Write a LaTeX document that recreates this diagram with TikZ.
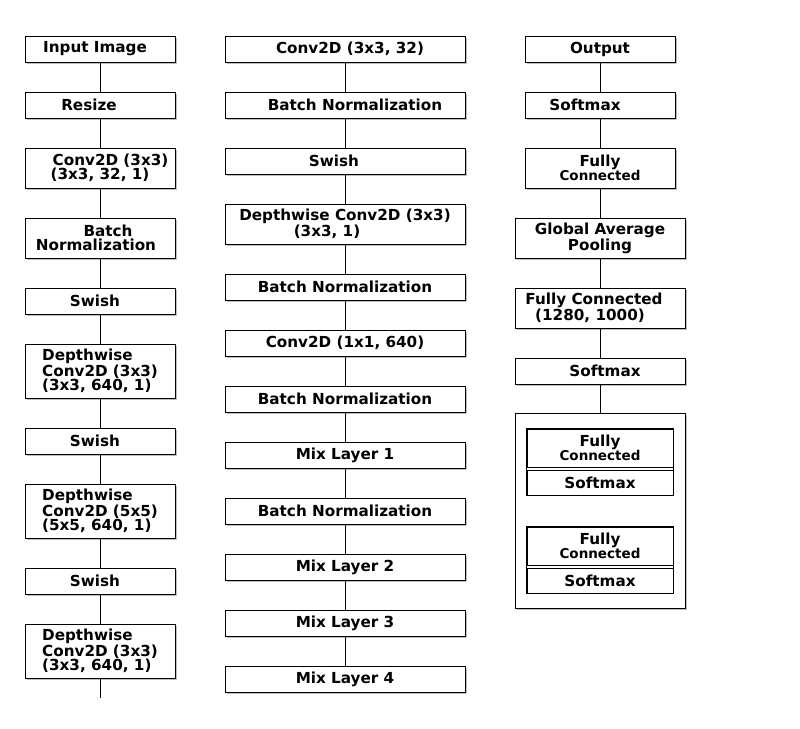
\documentclass[tikz,border=0pt]{standalone}
\usepackage{fontspec}
\setmainfont{DejaVu Sans}
\usetikzlibrary{shadows}
\newcommand\smtxt[1]{{\fontsize{13.5}{13}\selectfont #1}}
\tikzset{
  blk/.style={draw, fill=white, line width=0.9pt, inner sep=0pt, align=center,
    font=\fontsize{15.2}{13.8}\selectfont\bfseries,
    drop shadow={shadow xshift=1.6pt, shadow yshift=-1.6pt, opacity=0.5, fill=gray}},
  part/.style={draw, fill=white, line width=0.9pt, inner sep=0pt, align=center,
    minimum width=146pt, font=\fontsize{15.2}{13.8}\selectfont\bfseries},
  lnk/.style={line width=0.9pt}
}
\begin{document}
\begin{tikzpicture}[x=1pt,y=-1pt]
  \fill[white] (0,0) rectangle (800,728);
  \useasboundingbox (0,0) rectangle (800,728);
  % first column
  \node[blk, minimum width=150pt, minimum height=26pt] (inimg) at (100,49) {Input Image\hspace*{10pt}};
  \node[blk, minimum width=150pt, minimum height=26pt] (rsz) at (100,105) {Resize\hspace*{22pt}};
  \node[blk, minimum width=150pt, minimum height=40pt] (cva) at (100,168) {\hspace*{21pt}Conv2D (3x3)\\(3x3, 32, 1)};
  \node[blk, minimum width=150pt, minimum height=40pt] (bna) at (100,238) {\hspace*{16pt}Batch\\Normalization\hspace*{8pt}};
  \node[blk, minimum width=150pt, minimum height=26pt] (swa) at (100,301) {Swish\hspace*{10pt}};
  \node[blk, minimum width=150pt, minimum height=54pt, align=left] (dwa) at (100,371)
        {Depthwise\\Conv2D (3x3)\\(3x3, 640, 1)};
  \node[blk, minimum width=150pt, minimum height=26pt] (swb) at (100,441) {Swish\hspace*{10pt}};
  \node[blk, minimum width=150pt, minimum height=54pt, align=left] (dwb) at (100,511)
        {Depthwise\\Conv2D (5x5)\\(5x5, 640, 1)};
  \node[blk, minimum width=150pt, minimum height=26pt] (swc) at (100,581) {Swish\hspace*{10pt}};
  \node[blk, minimum width=150pt, minimum height=54pt, align=left] (dwc) at (100,651)
        {Depthwise\\Conv2D (3x3)\\(3x3, 640, 1)};
  \coordinate (aend) at (100,698);
  \foreach \a/\b in {inimg/rsz,rsz/cva,cva/bna,bna/swa,swa/dwa,dwa/swb,swb/dwb,dwb/swc,swc/dwc,dwc/aend}
    \draw[lnk] (\a) -- (\b);
  % second column
  \node[blk, minimum width=240pt, minimum height=26pt] (cvb) at (345,49) {\hspace*{10pt}Conv2D (3x3, 32)};
  \node[blk, minimum width=240pt, minimum height=26pt] (bnb) at (345,105) {\hspace*{20pt}Batch Normalization};
  \node[blk, minimum width=240pt, minimum height=26pt] (swd) at (345,161) {Swish\hspace*{22pt}};
  \node[blk, minimum width=240pt, minimum height=40pt] (dwd) at (345,224) {Depthwise Conv2D (3x3)\\(3x3, 1)\hspace*{36pt}};
  \node[blk, minimum width=240pt, minimum height=26pt] (bnc) at (345,287) {Batch Normalization};
  \node[blk, minimum width=240pt, minimum height=26pt] (cvc) at (345,343) {Conv2D (1x1, 640)};
  \node[blk, minimum width=240pt, minimum height=26pt] (bnd) at (345,399) {Batch Normalization};
  \node[blk, minimum width=240pt, minimum height=26pt] (mxa) at (345,455) {Mix Layer 1};
  \node[blk, minimum width=240pt, minimum height=26pt] (bne) at (345,511) {Batch Normalization};
  \node[blk, minimum width=240pt, minimum height=26pt] (mxb) at (345,567) {Mix Layer 2};
  \node[blk, minimum width=240pt, minimum height=26pt] (mxc) at (345,623) {Mix Layer 3};
  \node[blk, minimum width=240pt, minimum height=26pt] (mxd) at (345,679) {Mix Layer 4};
  \foreach \a/\b in {cvb/bnb,bnb/swd,swd/dwd,dwd/bnc,bnc/cvc,cvc/bnd,bnd/mxa,mxa/bne,bne/mxb,mxb/mxc,mxc/mxd}
    \draw[lnk] (\a) -- (\b);
  % third column
  \node[blk, minimum width=150pt, minimum height=26pt] (outp) at (600,49) {Output};
  \node[blk, minimum width=150pt, minimum height=26pt] (sma) at (600,105) {Softmax\hspace*{30pt}};
  \node[blk, minimum width=150pt, minimum height=40pt] (fca) at (600,168) {Fully\\\smtxt{Connected}};
  \node[blk, minimum width=170pt, minimum height=40pt] (gap) at (600,238) {Global Average\\Pooling};
  \node[blk, minimum width=170pt, minimum height=40pt] (fcb) at (600,308) {Fully Connected\hspace*{12pt}\\(1280, 1000)\hspace*{20pt}};
  \node[blk, minimum width=170pt, minimum height=26pt] (smb) at (600,371) {\hspace*{10pt}Softmax};
  \node[blk, minimum width=170pt, minimum height=195pt] (heads) at (600,510.5) {};
  \foreach \a/\b in {outp/sma,sma/fca,fca/gap,gap/fcb,fcb/smb,smb/heads}
    \draw[lnk] (\a) -- (\b);
  % heads inside the group
  \node[part, minimum height=38pt] (fcc) at (600,448) {Fully\\\smtxt{Connected}};
  \node[part, minimum height=25pt] (smc) at (600,482.5) {Softmax};
  \draw[lnk] (fcc.north west) rectangle (smc.south east);
  \node[part, minimum height=38pt] (fcd) at (600,546) {Fully\\\smtxt{Connected}};
  \node[part, minimum height=25pt] (smd) at (600,580.5) {Softmax};
  \draw[lnk] (fcd.north west) rectangle (smd.south east);
\end{tikzpicture}
\end{document}
